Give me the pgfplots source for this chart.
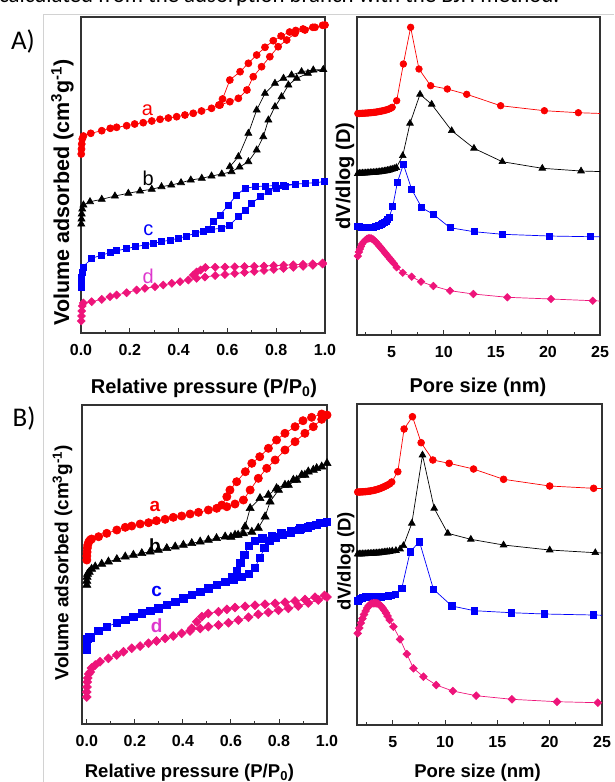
\documentclass[border=0pt]{standalone}
\usepackage{fontspec}
\setmainfont{Liberation Sans}
\newfontfamily\calibri{Carlito}
\usepackage{pgfplots}
\pgfplotsset{compat=1.18}

\definecolor{cred}{RGB}{250,0,0}
\definecolor{cblue}{RGB}{0,0,250}
\definecolor{cpink}{RGB}{238,20,122}
\definecolor{cmag}{RGB}{222,55,205}

\pgfplotsset{
  panel/.style={scale only axis, anchor=center, y dir=reverse,
    axis line style={black!80, line width=1.1pt},
    ytick=\empty, xtick pos=left, tick align=inside,
    major tick length=5pt, minor tick length=3pt,
    every tick/.style={black!80, line width=0.9pt},
    xticklabel style={font=\bfseries\fontsize{16}{16}\selectfont, yshift=-8pt},
    every axis plot/.append style={line width=0.7pt}},
  iso/.style={panel, xmin=0, xmax=1, xtick={0,0.2,0.4,0.6,0.8,1},
    xticklabels={0.0,0.2,0.4,0.6,0.8,1.0}, minor xtick={0.1,0.3,0.5,0.7,0.9}},
  psd/.style={panel, xmax=25, xtick={5,10,15,20,25}, xticklabels={5,10,15,20,25},
    minor xtick={2.5,7.5,12.5,17.5,22.5}},
  sa/.style={cred, mark=*, mark size=#1, mark options={fill=cred}},
  sb/.style={black, mark=triangle*, mark size=#1, mark options={fill=black}},
  sc/.style={cblue, mark=square*, mark size=#1, mark options={fill=cblue}},
  sd/.style={cpink, mark=square*, mark size=#1, mark options={fill=cpink, rotate=45}},
}

\begin{document}
\begin{tikzpicture}
\useasboundingbox (0,0) rectangle (614pt,-782pt);

% frame of the screenshot and cut caption line
\draw[gray!35, line width=1pt] (43pt,-14pt) -- (614pt,-14pt);
\draw[gray!35, line width=1pt] (43pt,-14pt) -- (43pt,-782pt);
\node[anchor=base west, inner sep=0pt, font=\calibri\fontsize{22.8}{22.8}\selectfont] at (-1pt,-2.5pt)
  {calculated from the adsorption branch with the BJH method.};

% ---------------- A, isotherms
\begin{axis}[iso, at={(203pt,-175pt)}, width=244pt, height=316pt, ymin=17, ymax=333]
\addplot[sa=3.5pt] coordinates {
(0.001,154)(0.002,149)(0.003,144)(0.005,139)(0.01,136)(0.04,133.3)(0.085,130.7)(0.12,128.3)
(0.146,127.3)(0.187,125.7)(0.22,124)(0.255,122.7)(0.29,121)(0.324,119.3)(0.358,118)(0.392,116.7)
(0.426,115)(0.46,113.3)(0.494,111)(0.535,108.3)(0.57,105)(0.61,101.7)(0.645,98.3)(0.68,90)
(0.706,76.7)(0.74,66.7)(0.774,56.7)(0.808,46.7)(0.843,40)(0.877,33.3)(0.918,30)(0.959,27.3)(1.0,25)
(0.99,25.3)(0.95,27.3)(0.91,29)(0.88,30.5)(0.855,32)(0.82,36)(0.788,40.7)(0.754,47.3)(0.72,55)
(0.686,63.3)(0.652,71.7)(0.61,80)(0.58,99)(0.565,105)};
\addplot[sb=4pt] coordinates {
(0.001,224)(0.002,219)(0.003,214)(0.005,209)(0.01,205)(0.037,201.7)(0.085,199.3)(0.139,196)
(0.194,193.3)(0.242,191)(0.29,189.3)(0.33,186.7)(0.37,185)(0.41,182.7)(0.45,180)(0.495,178.3)
(0.535,176)(0.577,174)(0.617,171.7)(0.65,167)(0.686,161.7)(0.72,150)(0.747,136.7)(0.768,120)
(0.795,106.7)(0.822,96.7)(0.85,85)(0.884,78.3)(0.93,73.3)(0.993,69.5)
(0.952,70)(0.904,71.7)(0.863,75)(0.83,78.3)(0.795,83.3)(0.754,93.3)(0.72,110)(0.686,133.3)
(0.645,156.7)(0.61,166.7)};
\addplot[sc=3pt] coordinates {
(0.001,287)(0.002,282)(0.003,277)(0.005,272)(0.008,267)(0.044,258.3)(0.085,255)(0.119,252.7)
(0.146,250.7)(0.187,248.7)(0.221,246.7)(0.262,245)(0.296,243.3)(0.33,241.7)(0.365,240)(0.4,238.3)
(0.433,236)(0.467,233.3)(0.5,231)(0.535,229.3)(0.577,228.3)(0.61,225)(0.645,216.7)(0.672,210)
(0.7,203.3)(0.734,196.7)(0.768,191.7)(0.8,188.3)(0.836,186)(0.877,184.3)(0.918,183.3)(0.959,182.7)
(0.997,181.7)(0.96,182.5)(0.92,183.5)(0.88,184)(0.83,185)(0.795,185.7)(0.754,186)(0.713,186.7)
(0.672,188.3)(0.638,195)(0.604,205)(0.57,215)(0.542,221.7)(0.52,229)};
\addplot[sd=2.8pt] coordinates {
(0.001,321)(0.002,316)(0.003,311)(0.005,306)(0.01,303)(0.044,301.7)(0.085,299.3)(0.119,296.7)
(0.146,295)(0.187,292.7)(0.228,290)(0.262,288.3)(0.303,286.7)(0.337,285)(0.372,283.3)(0.406,281.7)
(0.44,280)(0.474,278.3)(0.508,277)(0.55,275.5)(0.59,274.5)(0.63,273.5)(0.67,272.5)(0.71,271.5)
(0.75,270.5)(0.79,269.5)(0.83,268.5)(0.87,267.3)(0.91,266.3)(0.95,265.3)(0.99,264)
(0.99,263)(0.95,263.8)(0.91,264.3)(0.87,264.8)(0.83,265.2)(0.79,265.6)(0.75,266)(0.71,266.3)
(0.67,266.6)(0.63,266.8)(0.59,267)(0.55,267.2)(0.51,267.5)(0.49,270)(0.474,272)(0.46,275)};
\end{axis}

% ---------------- A, pore size distribution
\begin{axis}[psd, at={(478.5pt,-176pt)}, width=243pt, height=318pt, xmin=1.67, ymin=17, ymax=335]
\addplot[sa=3.3pt] coordinates {
(1.75,113.5)(1.9,113.5)(2.05,113.4)(2.2,113.3)(2.35,113.2)(2.5,113.1)(2.65,113)(2.8,112.9)
(2.95,112.7)(3.1,112.6)(3.25,112.4)(3.4,112.2)(3.55,112)(3.7,111.7)(3.85,111.4)(4.0,111.1)
(4.15,110.8)(4.3,110.4)(4.45,110)(4.6,109.5)(4.75,109)(4.9,108.3)(5.05,107.3)
(5.48,100.7)(6.12,64)(6.82,27.3)(7.62,69)(8.74,85.7)(10.34,89)(12.2,94.3)(15.46,105.7)
(19.66,110.7)(22.92,112.7)(26.5,114)};
\addplot[sb=3.8pt] coordinates {
(1.75,173.5)(1.9,173.4)(2.05,173.3)(2.2,173.2)(2.35,173.1)(2.5,173)(2.65,172.9)(2.8,172.8)
(2.95,172.7)(3.1,172.6)(3.25,172.5)(3.4,172.4)(3.55,172.2)(3.7,172)(3.85,171.8)(4.0,171.6)
(4.15,171.4)(4.3,171.1)(4.45,170.8)(4.6,170.5)(4.75,170.1)(4.9,169.7)(5.05,169.2)(5.25,168.5)
(5.45,167.7)(6.06,155.7)(6.76,123.3)(7.72,94.3)(8.84,104.3)(10.76,130.7)(12.9,148.3)
(15.62,161.7)(19.46,168.3)(23.18,171)(26.5,172)};
\addplot[sc=3pt] coordinates {
(1.75,226.5)(1.9,226.8)(2.05,227)(2.2,227.2)(2.35,227.3)(2.5,227.4)(2.65,227.4)(2.8,227.4)
(2.95,227.3)(3.1,227.2)(3.25,227)(3.4,226.7)(3.55,226.3)(3.7,225.8)(3.85,225.2)(4.0,224.5)
(4.15,223.5)(4.3,222.5)(4.45,221)(4.6,219.5)(4.75,217.5)
(5.1,206.7)(5.54,182.7)(6.12,164.3)(6.92,189.3)(7.88,207.7)(9.0,214.3)(10.6,227.7)(12.9,231.7)
(15.66,234.3)(20.1,236)(24.04,236.7)(26.5,237)};
\addplot[sd=2.6pt] coordinates {
(1.75,256)(1.85,252)(1.95,249)(2.05,246.5)(2.15,244)(2.3,242)(2.45,240.3)(2.6,239)(2.75,238.4)
(2.9,238.2)(3.05,238.5)(3.2,239.3)(3.35,240.6)(3.5,242.2)(3.65,244)(3.8,245.8)(3.95,247.6)
(4.1,249.5)(4.25,251.4)(4.4,253.3)(4.55,255.2)(4.7,257.1)(4.85,259)(5.0,261)(5.2,263.3)
(5.48,267.3)(6.06,272.7)(6.92,276.7)(7.82,281.7)(9.0,286)(10.6,290.7)(12.84,294)(16.1,297.3)
(20.3,299)(24.3,300.7)(26.5,301.5)};
\end{axis}

% ---------------- B, isotherms
\begin{axis}[iso, at={(204.5pt,-564.5pt)}, width=245pt, height=319pt, xmin=-0.02, ymin=405, ymax=724]
\addplot[sa=4.1pt] coordinates {
(0.0,560)(0.0,556)(0.001,552)(0.002,548)(0.004,545)(0.008,542)(0.014,540)(0.02,539)
(0.049,536.7)(0.083,533.3)(0.125,530)(0.16,527.3)(0.187,526)(0.222,524)(0.257,522.7)(0.29,520.7)
(0.326,519.3)(0.36,517.3)(0.395,516)(0.43,514)(0.465,512.3)(0.506,510)(0.541,508.3)(0.583,506.7)
(0.617,504)(0.652,500)(0.68,490)(0.714,478.3)(0.749,468.3)(0.784,460)(0.825,450)(0.867,441.7)
(0.908,433.3)(0.943,426.7)(0.978,419.3)(1.0,415)
(0.978,414)(0.936,417.3)(0.9,420.7)(0.867,426.7)(0.825,433.3)(0.79,440)(0.756,448.3)(0.72,456.7)
(0.687,463.3)(0.66,471.7)(0.624,481.7)(0.596,490)(0.583,496.7)(0.562,505)};
\addplot[sb=4.6pt] coordinates {
(0.0,585)(0.0,581)(0.001,577)(0.003,574)(0.01,572)(0.02,569)(0.035,566.7)(0.062,564)(0.09,561.7)
(0.125,559.3)(0.16,556.7)(0.194,555)(0.229,553.3)(0.264,551.7)(0.298,550)(0.333,548.3)(0.368,546.7)
(0.402,545)(0.437,543.3)(0.472,541.7)(0.506,540)(0.54,538.3)(0.576,536.7)(0.617,535)(0.652,533.5)
(0.687,532)(0.714,528)(0.742,516.7)(0.763,501.7)(0.798,490)(0.839,485)(0.874,480)(0.908,475)
(0.943,470)(0.978,466.7)(1.0,463.3)
(0.957,468.3)(0.922,471.7)(0.895,475)(0.86,480)(0.825,485)(0.79,488.3)(0.756,495)(0.721,498.3)
(0.68,508.3)(0.659,526.7)(0.63,535)(0.6,537)};
\addplot[sc=3.8pt] coordinates {
(0.0,650)(0.0,646)(0.001,642)(0.003,639)(0.008,637.5)(0.014,637.3)(0.049,630.7)(0.083,626.7)
(0.125,622.7)(0.16,620)(0.194,616.7)(0.229,613.3)(0.264,610.7)(0.298,608.3)(0.333,605)(0.368,601.7)
(0.402,598.3)(0.437,595)(0.472,591.7)(0.506,588.3)(0.541,585)(0.576,581.7)(0.61,579.5)(0.645,577)
(0.675,574)(0.7,568)(0.72,558)(0.74,548)(0.76,541)(0.785,537.5)(0.815,535)(0.85,532.5)(0.885,530)
(0.92,527.5)(0.955,525)(0.985,523)(1.0,522)
(0.97,523)(0.93,526)(0.89,528.5)(0.85,531)(0.81,533.5)(0.77,536)(0.73,538.5)(0.7,541)(0.675,546)
(0.655,555)(0.64,563)(0.625,571)(0.605,577)};
\addplot[sd=3.1pt] coordinates {
(0.0,697)(0.0,692)(0.001,687)(0.002,682)(0.004,678)(0.008,674)(0.014,672)(0.02,668)(0.035,665)
(0.055,661.7)(0.09,658.3)(0.125,655)(0.153,651.7)(0.187,648.3)(0.222,646)(0.257,643.3)(0.29,641)
(0.326,638.3)(0.36,636)(0.395,633.3)(0.43,631)(0.472,628.5)(0.506,626.7)(0.548,625)(0.59,622.7)
(0.631,620)(0.673,617.3)(0.714,614.3)(0.756,612.3)(0.798,610.3)(0.839,608.3)(0.88,606)(0.922,603)
(0.964,600)(1.0,597)
(0.99,595.5)(0.95,597.3)(0.908,599.5)(0.867,601)(0.825,602.3)(0.784,603.3)(0.742,604.3)(0.7,605.3)
(0.659,606.3)(0.617,607.5)(0.583,609.3)(0.548,611.7)(0.506,613.5)(0.479,616.7)(0.458,621.7)
(0.437,628.3)};
\end{axis}

% ---------------- B, pore size distribution
\begin{axis}[psd, at={(479.5pt,-564.5pt)}, width=245pt, height=321pt, xmin=1.58, ymin=404, ymax=725]
\addplot[sa=3.4pt] coordinates {
(1.65,492)(1.8,492)(1.95,491.9)(2.1,491.8)(2.25,491.7)(2.4,491.6)(2.55,491.4)(2.7,491.2)
(2.85,491)(3.0,490.7)(3.15,490.4)(3.3,490)(3.45,489.6)(3.6,489.1)(3.75,488.6)(3.9,488)
(4.05,487.3)(4.2,486.6)(4.35,485.8)(4.5,485)(4.7,483.8)(4.9,482)
(5.48,471.7)(6.08,429)(6.88,416.7)(7.71,442.7)(8.83,460)(10.39,463.3)(12.72,469)(15.59,479.3)
(20.0,486)(24.2,488.3)(26.5,489)};
\addplot[sb=3.8pt] coordinates {
(1.65,554)(1.8,554)(1.95,554)(2.1,553.9)(2.25,553.9)(2.4,553.8)(2.55,553.7)(2.7,553.6)
(2.85,553.5)(3.0,553.4)(3.15,553.3)(3.3,553.2)(3.45,553.1)(3.6,553)(3.75,552.8)(3.9,552.6)
(4.05,552.4)(4.2,552.2)(4.35,552)(4.5,551.8)(4.7,551.5)(4.95,551)(5.3,550.5)(5.7,549)
(6.02,545.7)(6.82,523.3)(7.84,455)(8.96,508.3)(10.26,533.3)(12.46,539.3)(15.59,545)(20,550)
(24.36,552.7)(26.5,553.5)};
\addplot[sc=3.2pt] coordinates {
(1.65,601)(1.8,599.5)(1.95,598.5)(2.1,597.8)(2.25,597.3)(2.4,597)(2.55,596.8)(2.7,596.7)
(2.85,596.7)(3.0,596.7)(3.15,596.7)(3.3,596.8)(3.45,596.8)(3.6,596.8)(3.75,596.8)(3.9,596.7)
(4.05,596.6)(4.2,596.5)(4.4,596.3)(4.6,596)(4.85,595.3)(5.22,594.5)
(5.86,588.3)(6.66,551.7)(7.55,541.7)(8.89,589.3)(10.65,606)(12.81,610.7)(16.32,612.7)
(19.51,614)(24.2,615)(26.5,615.5)};
\addplot[sd=2.7pt] coordinates {
(1.65,633.3)(1.8,628)(1.95,623)(2.1,618.5)(2.25,614.5)(2.4,611)(2.55,608)(2.7,605.8)(2.85,604.3)
(3.0,603.5)(3.15,603.2)(3.3,603.2)(3.47,603.3)(3.6,603.8)(3.75,604.8)(3.9,606.3)(4.05,608.3)
(4.2,610.5)(4.35,613)(4.5,616)(4.7,620)(5.06,626.7)(5.7,639.3)(6.34,654)(6.98,668.3)
(7.93,676.7)(9.15,685)(10.74,691)(12.97,695.7)(16.39,699.3)(20.7,701.7)(24.6,702.7)(26.5,703)};
\end{axis}

% ---------------- texts
\node[font=\calibri\fontsize{27}{27}\selectfont] at (23pt,-41pt) {A)};
\node[font=\calibri\fontsize{27}{27}\selectfont] at (24pt,-418pt) {B)};

\begin{scope}[font=\bfseries\fontsize{20}{20}\selectfont]
\node[anchor=base] at (204pt,-393pt) {Relative pressure (P/P\textsubscript{0})};
\node[anchor=base] at (478pt,-392pt) {Pore size (nm)};
\node[rotate=90, font=\bfseries\fontsize{21.5}{21.5}\selectfont] at (62.5pt,-192.5pt) {Volume adsorbed (cm\textsuperscript{3}g\textsuperscript{-1})};
\node[rotate=90] at (345pt,-176pt) {dV/dlog (D)};
\end{scope}
\begin{scope}[font=\bfseries\fontsize{18.5}{18.5}\selectfont]
\node[anchor=base] at (189.5pt,-777pt) {Relative pressure (P/P\textsubscript{0})};
\node[anchor=base] at (477.5pt,-777pt) {Pore size (nm)};
\node[rotate=90, font=\bfseries\fontsize{19}{19}\selectfont] at (62.5pt,-562.5pt) {Volume adsorbed (cm\textsuperscript{3}g\textsuperscript{-1})};
\node[rotate=90] at (346pt,-561.5pt) {dV/dlog (D)};
\end{scope}

\begin{scope}[font=\fontsize{20}{20}\selectfont]
\node[text=cred] at (147.5pt,-110pt) {a};
\node[text=black] at (148.3pt,-178.5pt) {b};
\node[text=cblue] at (148.3pt,-230pt) {c};
\node[text=cmag] at (148.3pt,-276pt) {d};
\end{scope}
\begin{scope}[font=\bfseries\fontsize{19}{19}\selectfont]
\node[text=cred] at (155pt,-506.7pt) {a};
\node[text=black] at (155pt,-546pt) {b};
\node[text=cblue] at (156.7pt,-591.7pt) {c};
\node[text=cmag] at (156.7pt,-625.8pt) {d};
\end{scope}
\end{tikzpicture}
\end{document}
